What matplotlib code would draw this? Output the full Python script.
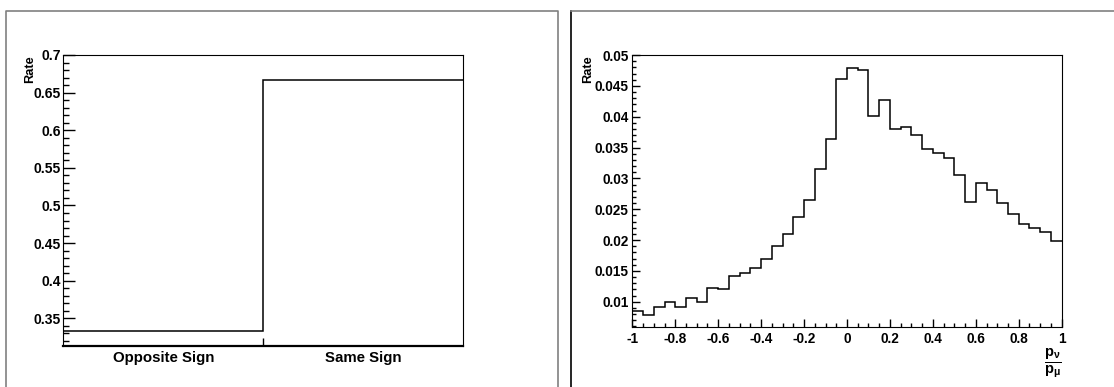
import numpy as np
import matplotlib
matplotlib.use("Agg")
import matplotlib.pyplot as plt
from matplotlib.lines import Line2D
from matplotlib.ticker import MultipleLocator, FixedLocator, NullFormatter

plt.rcParams["font.family"] = ["Liberation Sans", "DejaVu Sans"]
plt.rcParams["font.weight"] = "bold"
plt.rcParams["mathtext.fontset"] = "custom"
plt.rcParams["mathtext.bf"] = "Liberation Sans:bold"
plt.rcParams["mathtext.rm"] = "Liberation Sans"
plt.rcParams["mathtext.it"] = "Liberation Sans"

# Data
sign_labels = ["Opposite Sign", "Same Sign"]
sign_rate = [0.3333, 0.6667]

ratio_edges = np.linspace(-1.0, 1.0, 41)
ratio_rate = [
    0.00854, 0.00779, 0.00919, 0.01000, 0.00909, 0.01065, 0.00989, 0.01216,
    0.01200, 0.01411, 0.01460, 0.01552, 0.01698, 0.01908, 0.02098, 0.02373,
    0.02654, 0.03151, 0.03633, 0.04605, 0.04784, 0.04751, 0.04011, 0.04276,
    0.03800, 0.03838, 0.03708, 0.03481, 0.03406, 0.03335, 0.03060, 0.02622,
    0.02930, 0.02806, 0.02600, 0.02422, 0.02254, 0.02189, 0.02135, 0.01984,
]

W, H = 1114, 387
fig = plt.figure(figsize=(W / 100, H / 100), dpi=100)


def px_box(x0, x1, ytop, ybot):
    return [x0 / W, (H - ybot) / H, (x1 - x0) / W, (ybot - ytop) / H]


def pad_line(xs, ys, color):
    fig.add_artist(Line2D([x / W for x in xs], [1 - y / H for y in ys],
                          color=color, lw=1.2, transform=fig.transFigure))


# pad frames
pad_line([5.5, 5.5, 557.5, 557.5], [387, 10.5, 10.5, 387], "#808080")
pad_line([570.5, 570.5], [387, 10.5], "black")
pad_line([570.5, 1114], [10.5, 10.5], "#808080")

# left pad
ax1 = fig.add_axes(px_box(63.3, 463.3, 55, 345.7))
ax1.stairs(sign_rate, [0, 1, 2], color="black", lw=1.1, baseline=None)
ax1.set_xlim(0, 2)
ax1.set_ylim(0.3136, 0.7)
ax1.yaxis.set_major_locator(MultipleLocator(0.05))
ax1.yaxis.set_minor_locator(MultipleLocator(0.01))
ax1.yaxis.set_major_formatter(plt.FuncFormatter(lambda v, p: f"{v:g}"))
ax1.tick_params(axis="y", which="major", direction="in", length=8.6, width=1,
                labelsize=10, pad=1.5, right=False)
ax1.tick_params(axis="y", which="minor", direction="in", length=4.3, width=1, right=False)
ax1.xaxis.set_major_locator(FixedLocator([1]))
ax1.xaxis.set_major_formatter(NullFormatter())
ax1.xaxis.set_minor_locator(FixedLocator([0.5, 1.5]))
ax1.xaxis.set_minor_formatter(plt.FixedFormatter(sign_labels))
ax1.tick_params(axis="x", which="major", direction="in", length=5.8, width=1, top=False)
ax1.tick_params(axis="x", which="minor", length=0, labelsize=10.8, pad=3.6, top=False)
ax1.spines["bottom"].set_linewidth(1.6)
ax1.set_ylabel("Rate", loc="top", fontsize=9.2, fontweight="bold")
ax1.yaxis.set_label_coords(-0.068, 1.0)

# right pad
ax2 = fig.add_axes(px_box(632.3, 1061.7, 55, 326.7))
ax2.stairs(ratio_rate, ratio_edges, color="black", lw=1.1, baseline=None)
ax2.set_xlim(-1, 1)
ax2.set_ylim(0.00595, 0.05)
ax2.xaxis.set_major_locator(MultipleLocator(0.2))
ax2.xaxis.set_minor_locator(MultipleLocator(0.05))
ax2.yaxis.set_major_locator(MultipleLocator(0.005))
ax2.yaxis.set_minor_locator(MultipleLocator(0.001))
fmt = plt.FuncFormatter(lambda v, p: "0" if abs(v) < 1e-9 else f"{v:.10g}")
ax2.xaxis.set_major_formatter(fmt)
ax2.yaxis.set_major_formatter(fmt)
ax2.tick_params(which="major", direction="in", length=5.8, width=1, labelsize=9.8,
                top=False, right=False)
ax2.tick_params(which="minor", direction="in", length=2.9, width=1, top=False, right=False)
ax2.tick_params(axis="y", which="major", pad=2.6)
ax2.tick_params(axis="x", which="major", pad=3.8)
ax2.set_ylabel("Rate", loc="top", fontsize=9.2, fontweight="bold")
ax2.yaxis.set_label_coords(-0.089, 1.0)
ax2.text(1.0, -0.072, r"$\frac{\mathbf{p}_{\nu}}{\mathbf{p}_{\mu}}$", transform=ax2.transAxes,
         ha="right", va="top", fontsize=15)

fig.savefig("out.png", dpi=100)
